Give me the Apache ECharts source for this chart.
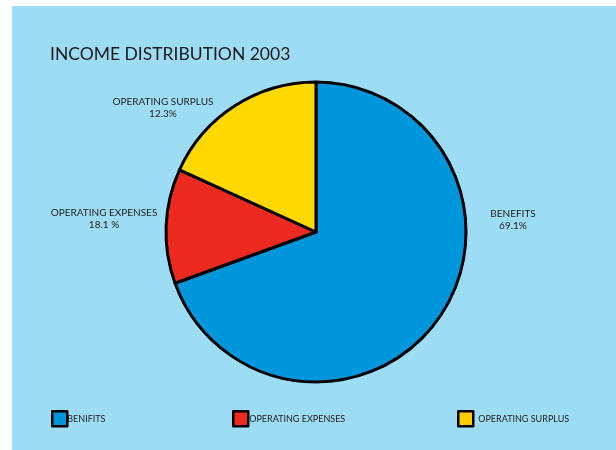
<!DOCTYPE html>
<html>
<head>
<meta charset="utf-8">
<script src="https://cdn.jsdelivr.net/npm/echarts@6/dist/echarts.min.js"></script>
<style>
html,body{margin:0;padding:0;background:#fff;}
#chart{width:616px;height:450px;}
</style>
</head>
<body>
<div id="chart"></div>
<script>
// Data
const titleText = 'INCOME DISTRIBUTION 2003';
const legendNames = ['BENIFITS', 'OPERATING EXPENSES', 'OPERATING SURPLUS'];
const sliceValues = [69.1, 12.3, 18.1];            // visual slice sizes
const labelNames = ['BENEFITS', 'OPERATING EXPENSES', 'OPERATING SURPLUS'];
const labelPercents = ['69.1%', '18.1 %', '12.3%']; // as printed on the chart
const sliceColors = ['#0096dc', '#ec2a1f', '#ffd800'];
const legendColors = ['#0096dc', '#ec2a1f', '#ffcc00'];

// layout-only settings
const labelPos = [[513, 220], [104, 219], [163, 108]];
const legendLeft = [51, 232, 457];
const legendTextPad = [-5, -4, 0];

const chart = echarts.init(document.getElementById('chart'), null, {renderer: 'canvas'});
const font = 'Lato, "Open Sans", sans-serif';

const option = {
  backgroundColor: '#ffffff',
  animation: false,
  graphic: [{
    type: 'rect', z: -10, silent: true,
    shape: {x: 12, y: 6, width: 604, height: 444},
    style: {fill: '#9ddcf5'}
  }],
  title: {
    text: titleText, left: 50, top: 45, padding: 0,
    textStyle: {fontFamily: font, fontSize: 17.5, fontWeight: 'normal', color: '#1a1a1a'}
  },
  legend: legendNames.map((n, i) => ({
    left: legendLeft[i], top: 410, padding: 0,
    data: [{name: n, itemStyle: {color: legendColors[i], borderColor: '#000', borderWidth: 2.5}}],
    icon: 'rect', itemWidth: 15, itemHeight: 15,
    selectedMode: false,
    textStyle: {fontFamily: font, fontSize: 9, color: '#222', padding: [0, 0, 0, legendTextPad[i]]}
  })),
  series: [{
    type: 'pie',
    center: [316, 232],
    radius: 150,
    startAngle: 90,
    clockwise: true,
    data: legendNames.map((n, i) => ({
      name: n, value: sliceValues[i],
      itemStyle: {color: sliceColors[i]}
    })),
    itemStyle: {borderColor: '#000', borderWidth: 3},
    label: {
      show: true,
      overflow: 'none',
      formatter: p => labelNames[p.dataIndex] + '\n' + labelPercents[p.dataIndex],
      fontFamily: font, fontSize: 10, color: '#222', lineHeight: 12, align: 'center'
    },
    labelLine: {show: false},
    labelLayout: p => ({
      x: labelPos[p.dataIndex][0], y: labelPos[p.dataIndex][1],
      align: 'center', verticalAlign: 'middle'
    }),
    emphasis: {disabled: true}
  }]
};
chart.setOption(option);
</script>
</body>
</html>
